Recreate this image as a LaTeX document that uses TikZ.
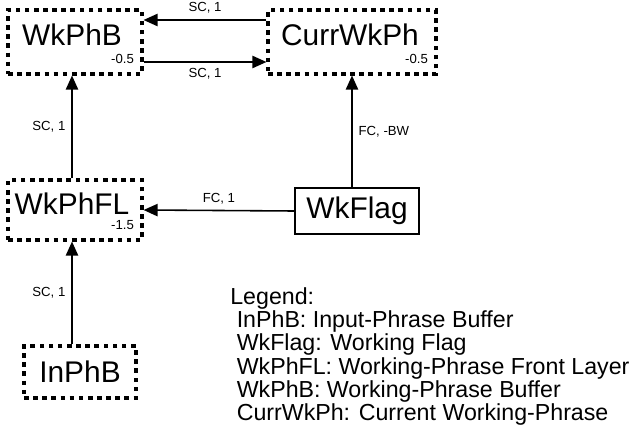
\documentclass[tikz,border=0pt]{standalone}
\usepackage{fontspec}
\setmainfont{Liberation Sans}
\usetikzlibrary{arrows.meta}
\begin{document}
\begin{tikzpicture}[x=0.02cm,y=-0.02cm]
  \tikzstyle{box}=[draw, line width=1.8pt, dash pattern=on 2.6pt off 2.6pt, minimum height=64*0.02cm, inner sep=0pt]
  \tikzstyle{arr}=[-{Triangle[length=8pt,width=7pt]}, line width=0.9pt]
  \tikzstyle{lbl}=[font=\fontsize{7.5}{8.5}\selectfont]
  \tikzstyle{big}=[font=\fontsize{17}{18}\selectfont]
  \useasboundingbox (0,0) rectangle (640,433);
  \node[box, minimum width=134*0.02cm] (WkPhB) at (75,42) {};
  \node[big] at (72,35) {WkPhB};
  \node[lbl, anchor=south east] at ([xshift=-2pt,yshift=3pt]WkPhB.south east) {-0.5};
  \node[box, minimum width=168*0.02cm] (CurrWkPh) at (352,42) {};
  \node[big] at (350,35) {CurrWkPh};
  \node[lbl, anchor=south east] at ([xshift=-2pt,yshift=3pt]CurrWkPh.south east) {-0.5};
  \node[box, minimum width=134*0.02cm, minimum height=60*0.02cm] (WkPhFL) at (75,210) {};
  \node[big] at (72,204) {WkPhFL};
  \node[lbl, anchor=south east] at ([xshift=-2pt,yshift=3pt]WkPhFL.south east) {-1.5};
  \node[draw, line width=0.9pt, minimum width=124*0.02cm, minimum height=46*0.02cm, big] (WkFlag) at (357,211) {WkFlag};
  \node[box, minimum width=112*0.02cm, minimum height=52*0.02cm, big] (InPhB) at (80,372) {InPhB};
  % connectors
  \draw[arr] (CurrWkPh.west |- 0,20) -- node[lbl, above]{SC, 1} (WkPhB.east |- 0,20);
  \draw[arr] (WkPhB.east |- 0,62) -- node[lbl, below]{SC, 1} (CurrWkPh.west |- 0,62);
  \draw[arr] (WkPhFL.north -| 72,0) -- node[lbl, left]{SC, 1} (WkPhB.south -| 72,0);
  \draw[arr] (InPhB.north -| 72,0) -- node[lbl, left]{SC, 1} (WkPhFL.south -| 72,0);
  \draw[arr] (WkFlag.west) -- node[lbl, above]{FC, 1} (WkPhFL.east);
  \draw[arr] (WkFlag.north -| 352,0) -- node[lbl, right]{FC, -BW} (CurrWkPh.south -| 352,0);
  % legend
  \node[anchor=north west, align=left, font=\fontsize{13.2}{13.3}\selectfont, inner sep=0pt] (legend) at (230,287)
    {Legend:\\
     \ InPhB: Input-Phrase Buffer\\
     \ WkFlag: Working Flag\\
     \ WkPhFL: Working-Phrase Front Layer\\
     \ WkPhB: Working-Phrase Buffer\\
     \ CurrWkPh: Current Working-Phrase};
\end{tikzpicture}
\end{document}
